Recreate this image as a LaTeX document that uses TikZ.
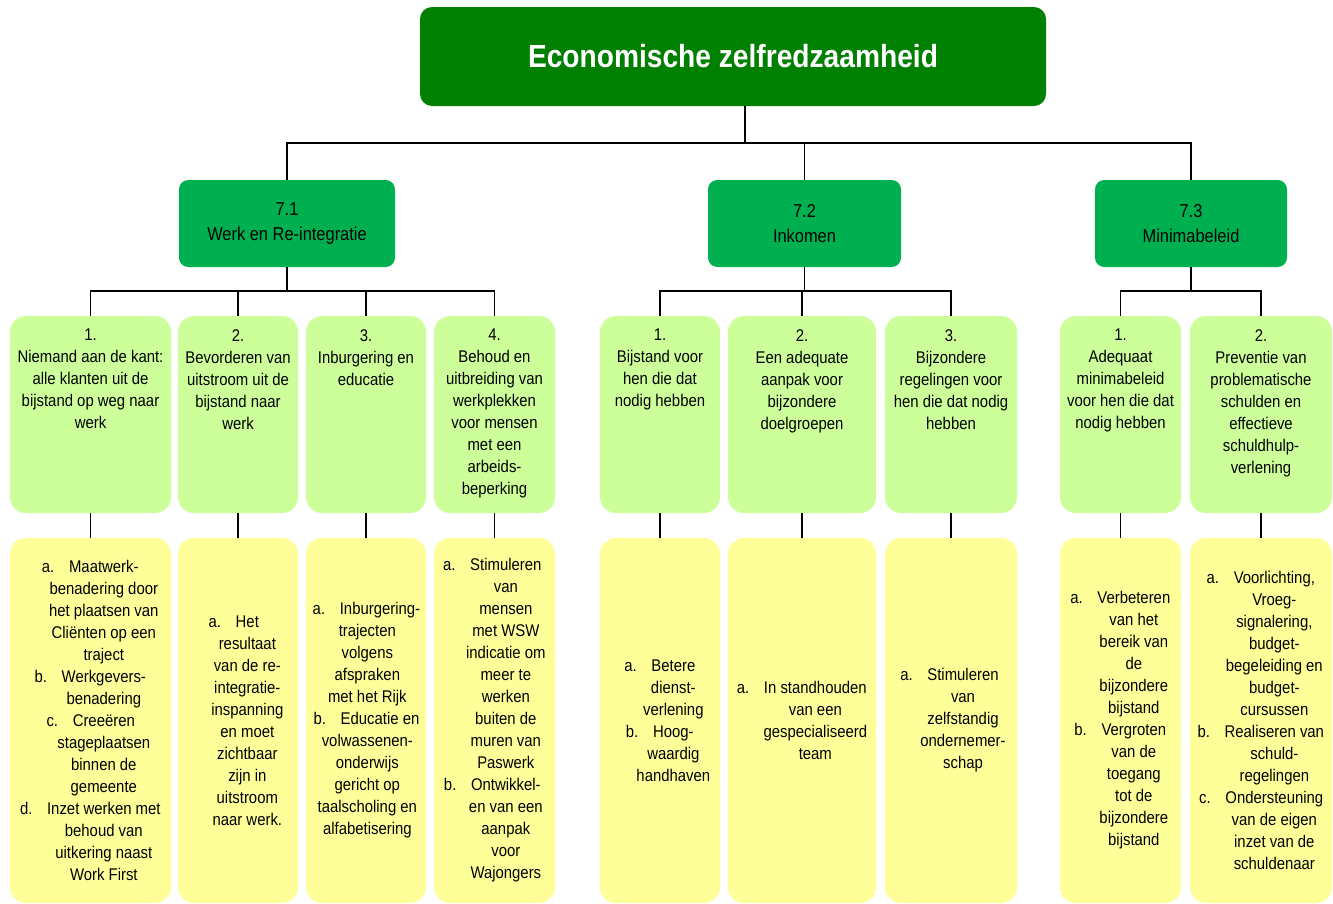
\documentclass[tikz,border=0pt]{standalone}
\usepackage{fontspec}
\setmainfont[FakeStretch=0.88]{Liberation Sans}
\usetikzlibrary{positioning}
\definecolor{topgreen}{RGB}{0,128,0}
\definecolor{midgreen}{RGB}{0,176,80}
\definecolor{goalgreen}{RGB}{204,255,153}
\definecolor{actyellow}{RGB}{255,255,153}
\newcommand{\itemlbl}[1]{\llap{#1\hspace{11pt}}}

\begin{document}
\begin{tikzpicture}[x=0.75pt, y=-0.75pt,
    topbox/.style={fill=topgreen, rounded corners=9pt, text=white, font=\bfseries\fontsize{24}{28}\selectfont, minimum width=469.5pt, minimum height=74.25pt},
    midbox/.style={fill=midgreen, rounded corners=7pt, align=center, font=\fontsize{14}{18.75}\selectfont, minimum width=#1*0.75pt, minimum height=65.25pt},
    goalbox/.style={fill=goalgreen, rounded corners=12pt, inner sep=0pt, minimum width=#1*0.75pt, minimum height=147.75pt},
    actbox/.style={fill=actyellow, rounded corners=12pt, inner sep=0pt, minimum width=#1*0.75pt, minimum height=273.75pt},
    boxtxt/.style={align=center, inner sep=0pt, font=\fontsize{12.7}{16.5}\selectfont},
    tree/.style={draw=black, line width=0.9pt}]
    \useasboundingbox (0,0) rectangle (1333,903);

    % top and themes
    \node[topbox] (top) at (733,56.5) {Economische zelfredzaamheid};
    \node[midbox=216] (w71) at (287,223.5) {7.1\\Werk en Re-integratie};
    \node[midbox=193] (w72) at (804.5,223.5) {7.2\\Inkomen};
    \node[midbox=192] (w73) at (1191,223.5) {7.3\\Minimabeleid};

    % goal and action boxes
    \foreach \i/\x/\w in {11/90.5/161, 12/238/120, 13/366/120, 14/494.5/121,
                          21/660/120, 22/802/148, 23/951/132,
                          31/1120.5/121, 32/1261/142} {
        \node[goalbox=\w] (g\i) at (\x,414.5) {};
        \node[actbox=\w] (a\i) at (\x,720.5) {};
    }

    % connectors
    \coordinate (j0) at (745,143);
    \coordinate (j1) at (0,291);
    \draw[tree] ([xshift=9pt]top.south) -- (j0);
    \draw[tree] (w71.north) |- (w73.north |- j0) -- (w73.north);
    \draw[tree] (w72.north) -- (w72.north |- j0);
    \draw[tree] (w71.south) -- (w71.south |- j1);
    \draw[tree] (w72.south) -- (w72.south |- j1);
    \draw[tree] (w73.south) -- (w73.south |- j1);
    \draw[tree] (g11.north) |- (g14.north |- j1) -- (g14.north);
    \draw[tree] (g21.north) |- (g23.north |- j1) -- (g23.north);
    \draw[tree] (g31.north) |- (g32.north |- j1) -- (g32.north);
    \foreach \i in {12,13,22}
        \draw[tree] (g\i.north) -- (g\i.north |- j1);
    \foreach \i in {11,12,13,14,21,22,23,31,32}
        \draw[tree] (g\i.south) -- (a\i.north);

    % goal texts
    \node[boxtxt, below=10pt of g11.north] (gt11) {1.\\Niemand aan de kant:\\alle klanten uit de\\bijstand op weg naar\\werk};
    \node[boxtxt, below=10pt of g12.north] (gt12) {2.\\Bevorderen van\\uitstroom uit de\\bijstand naar\\werk};
    \node[boxtxt, below=10pt of g13.north] (gt13) {3.\\Inburgering en\\educatie};
    \node[boxtxt, below=10pt of g14.north] (gt14) {4.\\Behoud en\\uitbreiding van\\werkplekken\\voor mensen\\met een\\arbeids-\\beperking};
    \node[boxtxt, below=10pt of g21.north] (gt21) {1.\\Bijstand voor\\hen die dat\\nodig hebben};
    \node[boxtxt, below=10pt of g22.north] (gt22) {2.\\Een adequate\\aanpak voor\\bijzondere\\doelgroepen};
    \node[boxtxt, below=10pt of g23.north] (gt23) {3.\\Bijzondere\\regelingen voor\\hen die dat nodig\\hebben};
    \node[boxtxt, below=10pt of g31.north] (gt31) {1.\\Adequaat\\minimabeleid\\voor hen die dat\\nodig hebben};
    \node[boxtxt, below=10pt of g32.north] (gt32) {2.\\Preventie van\\problematische\\schulden en\\effectieve\\schuldhulp-\\verlening};

    % action texts
    \node[boxtxt] (at11) at ([xshift=10pt]a11.center) {\itemlbl{a.}Maatwerk-\\benadering door\\het plaatsen van\\Cliënten op een\\traject\\\itemlbl{b.}Werkgevers-\\benadering\\\itemlbl{c.}Creeëren\\stageplaatsen\\binnen de\\gemeente\\\itemlbl{d.}Inzet werken met\\behoud van\\uitkering naast\\Work First};
    \node[boxtxt] (at12) at ([xshift=7pt]a12.center) {\itemlbl{a.}Het\\resultaat\\van de re-\\integratie-\\inspanning\\en moet\\zichtbaar\\zijn in\\uitstroom\\naar werk.};
    \node[boxtxt] (at13) at ([xshift=1pt]a13.center) {\hspace*{19pt}\itemlbl{a.}Inburgering-\\trajecten\\volgens\\afspraken\\met het Rijk\\\hspace*{19pt}\itemlbl{b.}Educatie en\\volwassenen-\\onderwijs\\gericht op\\taalscholing en\\alfabetisering};
    \node[boxtxt] (at14) at ([xshift=8.5pt]a14.center) {\itemlbl{a.}Stimuleren\\van\\mensen\\met WSW\\indicatie om\\meer te\\werken\\buiten de\\muren van\\Paswerk\\\itemlbl{b.}Ontwikkel-\\en van een\\aanpak\\voor\\Wajongers};
    \node[boxtxt] (at21) at ([xshift=10pt]a21.center) {\itemlbl{a.}Betere\\dienst-\\verlening\\\itemlbl{b.}Hoog-\\waardig\\handhaven};
    \node[boxtxt] (at22) at ([xshift=10pt]a22.center) {\itemlbl{a.}In standhouden\\van een\\gespecialiseerd\\team};
    \node[boxtxt] (at23) at ([xshift=9pt]a23.center) {\itemlbl{a.}Stimuleren\\van\\zelfstandig\\ondernemer-\\schap};
    \node[boxtxt] (at31) at ([xshift=10pt]a31.center) {\itemlbl{a.}Verbeteren\\van het\\bereik van\\de\\bijzondere\\bijstand\\\itemlbl{b.}Vergroten\\van de\\toegang\\tot de\\bijzondere\\bijstand};
    \node[boxtxt] (at32) at ([xshift=10pt]a32.center) {\itemlbl{a.}Voorlichting,\\Vroeg-\\signalering,\\budget-\\begeleiding en\\budget-\\cursussen\\\itemlbl{b.}Realiseren van\\schuld-\\regelingen\\\itemlbl{c.}Ondersteuning\\van de eigen\\inzet van de\\schuldenaar};
\end{tikzpicture}
\end{document}
